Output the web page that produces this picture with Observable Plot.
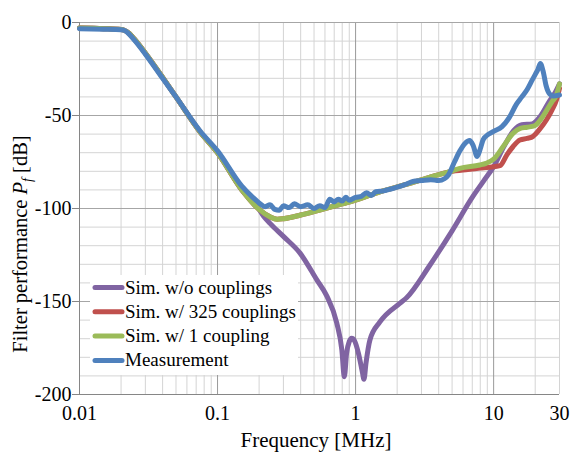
<!DOCTYPE html>
<html>
<head>
<meta charset="utf-8">
<script src="https://cdn.jsdelivr.net/npm/d3@7"></script>
<script src="https://cdn.jsdelivr.net/npm/@observablehq/plot@0.6"></script>
<style>
  html, body { margin: 0; padding: 0; background: #fff; }
  #chart { width: 570px; height: 453px; }
  #chart svg, #chart svg text { font-family: "Liberation Serif", "Times New Roman", serif !important; }
</style>
</head>
<body>
<div id="chart"></div>
<script>
// ---- Data ----
const seriesNames = ["Sim. w/o couplings", "Sim. w/ 325 couplings", "Sim. w/ 1 coupling", "Measurement"];
const seriesColors = ["#8064A2", "#C0504D", "#9BBB59", "#4F81BD"];

const purpleF  = [0.01, 0.015, 0.02, 0.0215, 0.023, 0.025, 0.03, 0.04, 0.05, 0.075, 0.1, 0.15, 0.2, 0.215, 0.24, 0.3, 0.396, 0.524, 0.618, 0.73, 0.795, 0.829, 0.86, 0.9, 0.937, 0.98, 1.05, 1.12, 1.15, 1.19, 1.27, 1.5, 2.09, 2.34, 3.45, 5.0, 7.0, 8.5, 10, 12, 14, 16, 19, 22, 25, 28, 30];
const purpleDb = [-3, -3.3, -3.8, -4.5, -6, -9, -16.5, -29.5, -40, -59, -70, -90, -100.5, -104, -108, -115, -124, -138.4, -147, -161.5, -176, -190.4, -178, -171.5, -169.8, -171, -178, -188, -191.8, -183, -170.7, -161, -151, -148, -130.5, -112, -94, -85, -77.5, -66, -58, -55, -54.5, -50, -43, -37.5, -33];

const redF  = [0.01, 0.015, 0.02, 0.0215, 0.023, 0.025, 0.03, 0.04, 0.05, 0.075, 0.1, 0.15, 0.2, 0.24, 0.27, 0.3, 0.4, 0.55, 0.8, 1.0, 1.5, 2.47, 3.5, 4.82, 6.5, 8, 10, 11.1, 12.5, 13.8, 15.5, 17.5, 19.3, 21.5, 24.1, 26.5, 28.5, 30];
const redDb = [-3, -3.3, -3.8, -4.5, -6, -9, -16.5, -29.5, -40, -59, -70, -90, -100.5, -104.5, -105.8, -105.5, -103.5, -100.8, -97.5, -95.5, -91, -86.5, -83, -80.2, -79, -78.3, -77.5, -77, -71, -66.8, -63.2, -62.3, -61.2, -57.5, -52.4, -47, -41.7, -35.4];

const greenF  = [0.01, 0.015, 0.02, 0.0215, 0.023, 0.025, 0.03, 0.04, 0.05, 0.075, 0.1, 0.15, 0.2, 0.24, 0.27, 0.3, 0.4, 0.55, 0.8, 1.0, 1.5, 2.47, 3.5, 4.82, 5.69, 7.93, 8.8, 10, 11.7, 13.8, 15.6, 17.5, 19.8, 22, 24.1, 26.5, 28.5, 30];
const greenDb = [-3, -3.3, -3.8, -4.5, -6, -9, -16.5, -29.5, -40, -59, -70, -90, -100.5, -104.5, -105.8, -105.5, -103.5, -100.8, -97.5, -95.5, -91, -86.5, -83, -80.2, -78.4, -76.6, -75.7, -73.5, -66.8, -59.6, -56.9, -56.3, -55.5, -52, -47.5, -42.5, -39, -33];

const blueF  = [0.01, 0.015, 0.02, 0.0215, 0.023, 0.025, 0.03, 0.04, 0.05, 0.075, 0.1, 0.15, 0.18, 0.2, 0.22, 0.24, 0.26, 0.28, 0.3, 0.33, 0.36, 0.4, 0.45, 0.5, 0.55, 0.6, 0.65, 0.7, 0.75, 0.8, 0.85, 0.9, 1.0, 1.1, 1.2, 1.3, 1.4, 1.6, 1.8, 2.0, 2.3, 2.6, 3.0, 3.5, 4.0, 4.4, 4.7, 5.2, 5.7, 6.2, 6.7, 7.1, 7.6, 8.0, 8.4, 9.2, 10, 11.5, 13, 14.6, 16, 17.5, 19, 20, 21, 21.8, 22.8, 24, 25.5, 27, 30];
const blueDb = [-3.3, -3.6, -3.9, -4.5, -6.5, -9.5, -17, -30, -40, -58.5, -69, -88, -94, -97, -99, -98, -100.5, -101, -98.5, -99.5, -97.5, -99, -98, -100, -98.5, -99.5, -95, -96.5, -95, -96, -94, -95.5, -94, -93.5, -91.5, -93, -91, -90.5, -89.5, -88.5, -87, -85.5, -85, -84.5, -85, -84, -82, -75, -69, -65, -63.5, -66, -72, -68, -63, -60, -58.5, -56, -51, -44, -40, -36, -31, -28, -25, -22, -26, -34, -38.5, -39.5, -39];

const xTicks = [0.01, 0.1, 1, 10, 30];
const xTickLabels = ["0.01", "0.1", "1", "10", "30"];
const xMajorGrid = [0.01, 0.1, 1, 10];
const xMinorGrid = [0.02,0.03,0.04,0.05,0.06,0.07,0.08,0.09,0.2,0.3,0.4,0.5,0.6,0.7,0.8,0.9,2,3,4,5,6,7,8,9,20,30];
const yTicks = [-200, -150, -100, -50, 0];
const yMinorGrid = [-190,-180,-170,-160,-140,-130,-120,-110,-90,-80,-70,-60,-40,-30,-20,-10];

// ---- Build tidy rows ----
const allF = [purpleF, redF, greenF, blueF];
const allDb = [purpleDb, redDb, greenDb, blueDb];
const rows = [];
seriesNames.forEach((name, i) => {
  allF[i].forEach((f, j) => rows.push({series: name, f, db: allDb[i][j]}));
});

const lineMarks = seriesNames.map((name, i) =>
  Plot.line(rows.filter(d => d.series === name), {
    x: "f", y: "db", stroke: seriesColors[i], strokeWidth: 5,
    strokeLinejoin: "round", strokeLinecap: "round", curve: "monotone-x"
  })
);

const FONT = "Liberation Serif, Times New Roman, serif";

const chart = Plot.plot({
  width: 570,
  height: 453,
  marginLeft: 79,
  marginRight: 11,
  marginTop: 22,
  marginBottom: 59,
  style: {fontFamily: FONT, fontSize: "20px", background: "#fff", color: "#000"},
  x: {type: "log", domain: [0.01, 30], axis: null},
  y: {domain: [-200, 0]},
  marks: [
    Plot.ruleX(xMinorGrid, {stroke: "#d4d4d4", strokeWidth: 1}),
    Plot.ruleY(yMinorGrid, {stroke: "#d4d4d4", strokeWidth: 1}),
    Plot.ruleX(xMajorGrid, {stroke: "#9a9a9a", strokeWidth: 1}),
    Plot.ruleY(yTicks, {stroke: "#a6a6a6", strokeWidth: 1}),
    Plot.ruleY([-200], {stroke: "#868686", strokeWidth: 1}),
    Plot.ruleX([0.01], {stroke: "#868686", strokeWidth: 1}),
    Plot.text(xTicks, {
      x: d => d, frameAnchor: "bottom", dy: 25, fontSize: 20, fill: "#000",
      text: (d, i) => xTickLabels[i], clip: false
    }),
    Plot.axisY(yTicks, {
      tickSize: 7, tickPadding: 1, fontSize: 20, stroke: "#868686",
      tickFormat: d => String(d), label: null
    }),
    ...lineMarks
  ]
});

const svg = d3.select(chart);
svg.attr("font-family", FONT).style("font-family", FONT);
svg.selectAll("text").attr("fill", "#000");

// Axis titles
svg.append("text")
  .attr("x", 316).attr("y", 447)
  .attr("text-anchor", "middle")
  .attr("font-size", 21)
  .attr("fill", "#000")
  .text("Frequency [MHz]");

const yl = svg.append("text")
  .attr("transform", "translate(27,244) rotate(-90)")
  .attr("text-anchor", "middle")
  .attr("font-size", 20.5)
  .attr("fill", "#000");
yl.append("tspan").text("Filter performance ");
yl.append("tspan").attr("font-style", "italic").text("P");
yl.append("tspan").attr("font-style", "italic").attr("font-size", 14).attr("dy", 5).text("f");
yl.append("tspan").attr("dy", -5).text(" [dB]");

// Legend
const lg = svg.append("g");
lg.append("rect").attr("x", 90).attr("y", 275).attr("width", 208).attr("height", 100).attr("fill", "#fff");
seriesNames.forEach((name, i) => {
  const y = 287.5 + i * 24.3;
  lg.append("line").attr("x1", 95).attr("x2", 122).attr("y1", y).attr("y2", y)
    .attr("stroke", seriesColors[i]).attr("stroke-width", 5).attr("stroke-linecap", "round");
  lg.append("text").attr("x", 125).attr("y", y).attr("dy", "0.32em")
    .attr("text-anchor", "start")
    .attr("font-size", 19).attr("fill", "#000").text(name);
});

svg.selectAll("text").attr("font-family", FONT).style("font-family", FONT);

document.getElementById("chart").appendChild(chart);
</script>
</body>
</html>
